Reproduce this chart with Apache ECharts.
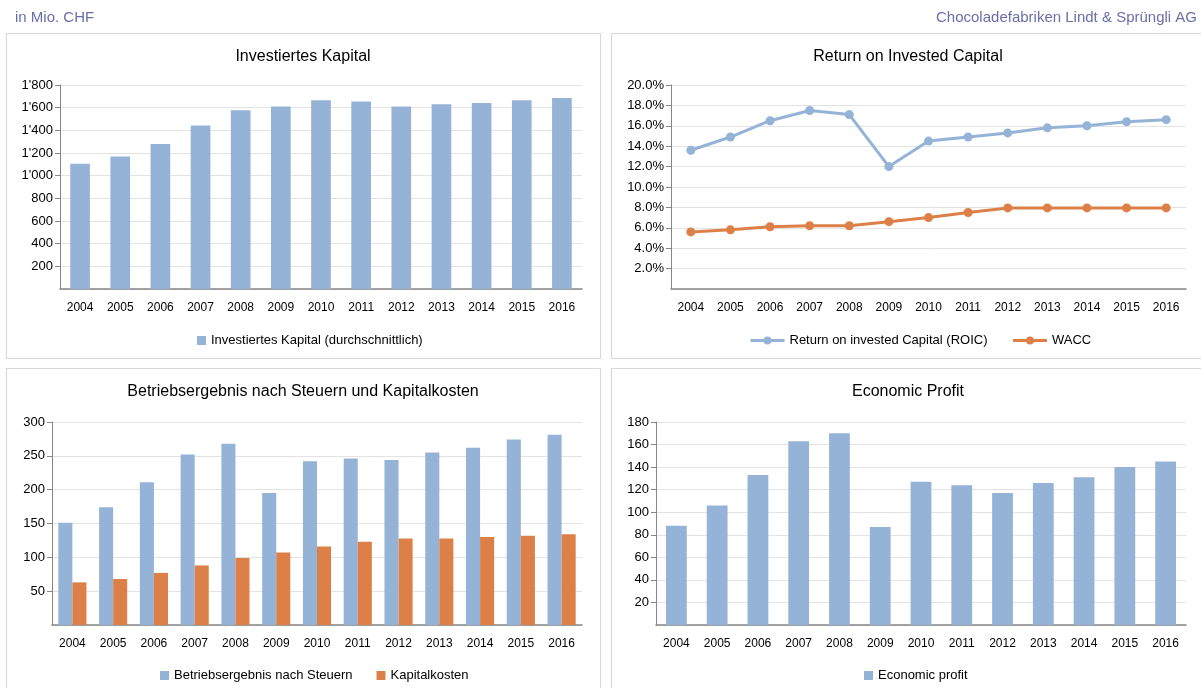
<!DOCTYPE html>
<html>
<head>
<meta charset="utf-8">
<script src="https://cdn.jsdelivr.net/npm/echarts@6/dist/echarts.min.js"></script>
<style>
html,body{margin:0;padding:0;background:#fff;}
#c{width:1201px;height:688px;}
</style>
</head>
<body>
<div id="c"></div>
<script>
// ---- data ----
var years = ['2004','2005','2006','2007','2008','2009','2010','2011','2012','2013','2014','2015','2016'];
var investiertesKapital = [1106, 1170, 1280, 1443, 1577, 1610, 1666, 1655, 1610, 1630, 1642, 1666, 1686];
var roic = [13.6, 14.9, 16.5, 17.5, 17.1, 12.0, 14.5, 14.9, 15.3, 15.8, 16.0, 16.4, 16.6];
var wacc = [5.6, 5.8, 6.1, 6.2, 6.2, 6.6, 7.0, 7.5, 7.95, 7.95, 7.95, 7.95, 7.95];
var nopat = [151, 174, 211, 252, 268, 195, 242, 246, 244, 255, 262, 274, 281];
var kapitalkosten = [63, 68, 77, 88, 99, 107, 116, 123, 128, 128, 130, 132, 134];
var economicProfit = [88, 106, 133, 163, 170, 87, 127, 124, 117, 126, 131, 140, 145];

var titles = ['Investiertes Kapital', 'Return on Invested Capital', 'Betriebsergebnis nach Steuern und Kapitalkosten', 'Economic Profit'];
var headerLeft = 'in Mio. CHF';
var headerRight = 'Chocoladefabriken Lindt & Sprüngli AG';

var FONT = 'Liberation Sans';
var BLUE = '#95b3d7';
var ORANGE = '#dd8047';
var AXIS = '#868686';
var GRID = '#e3e3e3';

function thousands(v){
  var s = String(Math.round(v));
  return s.replace(/\B(?=(\d{3})+(?!\d))/g, "'");
}

function xAxis(gi){
  return {
    type:'category', gridIndex:gi, data:years, boundaryGap:true,
    axisLine:{show:true, lineStyle:{color:AXIS, width:1.5}},
    axisTick:{show:false},
    axisLabel:{color:'#000', fontFamily:FONT, fontSize:12, margin:13}
  };
}
function yAxis(gi, max, interval, fmt){
  return {
    type:'value', gridIndex:gi, min:0, max:max, interval:interval,
    axisLine:{show:true, lineStyle:{color:AXIS}},
    axisTick:{show:true, length:5, lineStyle:{color:AXIS}},
    splitLine:{show:true, lineStyle:{color:GRID, width:1}},
    axisLabel:{color:'#000', fontFamily:FONT, fontSize:13, margin:7, showMinLabel:false, formatter:fmt}
  };
}

var chart = echarts.init(document.getElementById('c'), null, {renderer:'canvas'});

var titleCenters = [[303,57],[908,57],[303,392],[908,392]];

var option = {
  animation:false,
  backgroundColor:'#fff',
  textStyle:{fontFamily:FONT},
  graphic:[
    {type:'rect', shape:{x:6.5,y:33.5,width:594,height:325}, style:{fill:'none', stroke:'#d9d9d9', lineWidth:1.2}, silent:true},
    {type:'rect', shape:{x:611.5,y:33.5,width:600,height:325}, style:{fill:'none', stroke:'#d9d9d9', lineWidth:1.2}, silent:true},
    {type:'rect', shape:{x:6.5,y:368.5,width:594,height:340}, style:{fill:'none', stroke:'#d9d9d9', lineWidth:1.2}, silent:true},
    {type:'rect', shape:{x:611.5,y:368.5,width:600,height:340}, style:{fill:'none', stroke:'#d9d9d9', lineWidth:1.2}, silent:true},
    {type:'text', left:15, top:10, style:{text:headerLeft, fill:'#6b6fa8', font:'15px "Liberation Sans"'}},
    {type:'text', right:4, top:10, style:{text:headerRight, fill:'#6b6fa8', font:'15px "Liberation Sans"'}}
  ].concat(titles.map(function(t,i){
    return {type:'text', x:titleCenters[i][0], y:titleCenters[i][1], style:{text:t, fill:'#000', font:'16px "Liberation Sans"', textAlign:'center', textVerticalAlign:'middle'}};
  })),
  grid:[
    {left:60, top:85, width:522, height:204},
    {left:671, top:85, width:515, height:204},
    {left:52, top:422, width:530, height:203},
    {left:656, top:422, width:530, height:203}
  ],
  xAxis:[xAxis(0), xAxis(1), xAxis(2), xAxis(3)],
  yAxis:[
    yAxis(0, 1800, 200, thousands),
    yAxis(1, 20, 2, function(v){return v.toFixed(1)+'%';}),
    yAxis(2, 300, 50, function(v){return String(v);}),
    yAxis(3, 180, 20, function(v){return String(v);})
  ],
  legend:[
    {data:['Investiertes Kapital (durchschnittlich)'], left:192, top:329, itemWidth:9, itemHeight:9, itemGap:24, icon:'rect',
     textStyle:{fontFamily:FONT, fontSize:13, color:'#000'}},
    {data:['Return on invested Capital (ROIC)','WACC'], left:744, top:329, itemWidth:34, itemHeight:10, itemGap:24,
     lineStyle:{width:3}, textStyle:{fontFamily:FONT, fontSize:13, color:'#000'}},
    {data:['Betriebsergebnis nach Steuern','Kapitalkosten'], left:155, top:664, itemWidth:9, itemHeight:9, itemGap:24, icon:'rect',
     textStyle:{fontFamily:FONT, fontSize:13, color:'#000'}},
    {data:['Economic profit'], left:859, top:664, itemWidth:9, itemHeight:9, icon:'rect',
     textStyle:{fontFamily:FONT, fontSize:13, color:'#000'}}
  ],
  series:[
    {name:'Investiertes Kapital (durchschnittlich)', type:'bar', xAxisIndex:0, yAxisIndex:0, data:investiertesKapital,
     barWidth:'49%', itemStyle:{color:BLUE}},
    {name:'Return on invested Capital (ROIC)', type:'line', xAxisIndex:1, yAxisIndex:1, data:roic,
     symbol:'circle', symbolSize:9, lineStyle:{color:BLUE, width:3}, itemStyle:{color:BLUE}},
    {name:'WACC', type:'line', xAxisIndex:1, yAxisIndex:1, data:wacc,
     symbol:'circle', symbolSize:9, lineStyle:{color:ORANGE, width:3}, itemStyle:{color:ORANGE}},
    {name:'Betriebsergebnis nach Steuern', type:'bar', xAxisIndex:2, yAxisIndex:2, data:nopat,
     barGap:'0%', barCategoryGap:'31%', itemStyle:{color:BLUE}},
    {name:'Kapitalkosten', type:'bar', xAxisIndex:2, yAxisIndex:2, data:kapitalkosten,
     barGap:'0%', barCategoryGap:'31%', itemStyle:{color:ORANGE}},
    {name:'Economic profit', type:'bar', xAxisIndex:3, yAxisIndex:3, data:economicProfit,
     barWidth:'51%', itemStyle:{color:BLUE}}
  ]
};
chart.setOption(option);
</script>
</body>
</html>
